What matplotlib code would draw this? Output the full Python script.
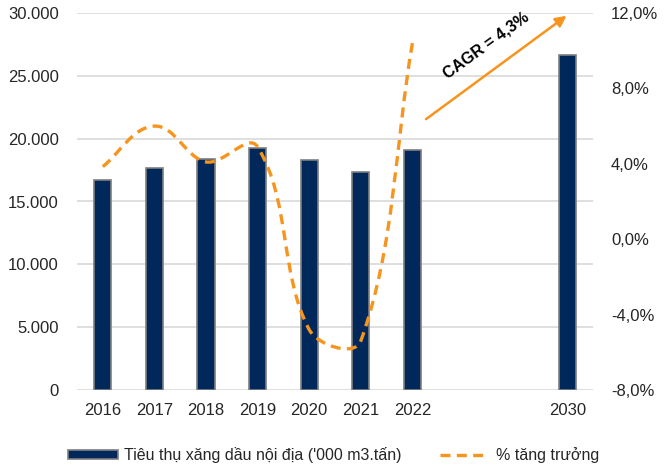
import numpy as np
import matplotlib
matplotlib.use("Agg")
import matplotlib.pyplot as plt
from matplotlib.path import Path
from matplotlib.patches import PathPatch, Patch
from matplotlib.lines import Line2D
from matplotlib.ticker import FuncFormatter, MultipleLocator

# ---- data ----
years       = ["2016", "2017", "2018", "2019", "2020", "2021", "2022", "2030"]
slots       = [0, 1, 2, 3, 4, 5, 6, 9]          # two empty category slots before 2030
consumption = [16700, 17650, 18380, 19250, 18300, 17330, 19090, 26650]
growth_pct  = [3.85, 6.0, 4.1, 4.9, -4.8, -5.4, 10.4]   # 2016..2022
cagr_label  = "CAGR = 4,3%"

NAVY   = "#00285A"
EDGE   = "#7F7F7F"
ORANGE = "#F7941D"
GRID   = "#D9D9D9"
TXT    = "#262626"

plt.rcParams["font.family"] = ["Liberation Sans", "DejaVu Sans"]
plt.rcParams["font.size"] = 12

fig = plt.figure(figsize=(6.67, 4.65), dpi=100)
ax = fig.add_axes([77/667, 1 - 390/465, (593-77)/667, (390-13)/465])
ax2 = ax.twinx()

ax.bar(slots, consumption, width=0.33, color=NAVY, edgecolor=EDGE, linewidth=1.2, zorder=2)
ax.set_xlim(-0.5, 9.5)
ax.set_ylim(0, 30000)
ax.yaxis.set_major_locator(MultipleLocator(5000))
ax.yaxis.set_major_formatter(FuncFormatter(lambda v, p: f"{int(v):,}".replace(",", ".")))
ax.set_xticks(slots)
ax.set_xticklabels(years)
ax.grid(axis="y", color=GRID, linewidth=1.2, zorder=0)
ax.set_axisbelow(True)

ax2.set_ylim(-8, 12)
ax2.yaxis.set_major_locator(MultipleLocator(4))
ax2.yaxis.set_major_formatter(FuncFormatter(lambda v, p: f"{v:.1f}%".replace(".", ",")))

for a in (ax, ax2):
    for s in a.spines.values():
        s.set_visible(False)
    a.tick_params(length=0, colors=TXT, labelsize=12)
ax.tick_params(axis="y", pad=13)
ax.tick_params(axis="x", pad=9)
ax2.tick_params(axis="y", pad=13)

# smoothed growth line (Excel-like bezier, tangents scaled by chord length in pixel space)
pts = ax2.transData.transform(np.column_stack([slots[:len(growth_pct)], growth_pct]))
n = len(pts)
verts = [pts[0]]
codes = [Path.MOVETO]
for i in range(n - 1):
    p0 = pts[max(i - 1, 0)]
    p1 = pts[i]
    p2 = pts[i + 1]
    p3 = pts[min(i + 2, n - 1)]
    seg = np.linalg.norm(p2 - p1)
    t1 = p2 - p0
    t2 = p3 - p1
    t1 = t1 / np.linalg.norm(t1)
    t2 = t2 / np.linalg.norm(t2)
    c1 = p1 + t1 * seg / 3
    c2 = p2 - t2 * seg / 3
    verts += [c1, c2, p2]
    codes += [Path.CURVE4] * 3
verts = ax2.transData.inverted().transform(np.array(verts))
ax2.add_patch(PathPatch(Path(verts, codes), fill=False, edgecolor=ORANGE, linewidth=2.4,
                        linestyle=(0, (3, 1.9)), capstyle="butt", zorder=3))

# CAGR arrow + label
ax.annotate("", xy=(0.953, 0.997), xytext=(0.672, 0.714), xycoords="axes fraction",
            arrowprops=dict(arrowstyle="-|>", color=ORANGE, lw=1.8, mutation_scale=16),
            annotation_clip=False)
ax.text(0.792, 0.915, cagr_label, transform=ax.transAxes, rotation=36, ha="center", va="center",
        fontsize=11.5, fontweight="bold", color="black")

handles = [Patch(facecolor=NAVY, edgecolor=EDGE, linewidth=1.2),
           Line2D([], [], color=ORANGE, lw=2.4, linestyle=(0, (3, 1.9)))]
fig.legend(handles, ["Tiêu thụ xăng dầu nội địa ('000 m3.tấn)", "% tăng trưởng"],
           loc="center", bbox_to_anchor=(0.5, 1 - 455/465), ncol=2, frameon=False,
           handlelength=3.1, handleheight=0.45, columnspacing=2.4, handletextpad=0.4,
           fontsize=11.5, labelcolor=TXT)

fig.savefig("out.png", dpi=100)
